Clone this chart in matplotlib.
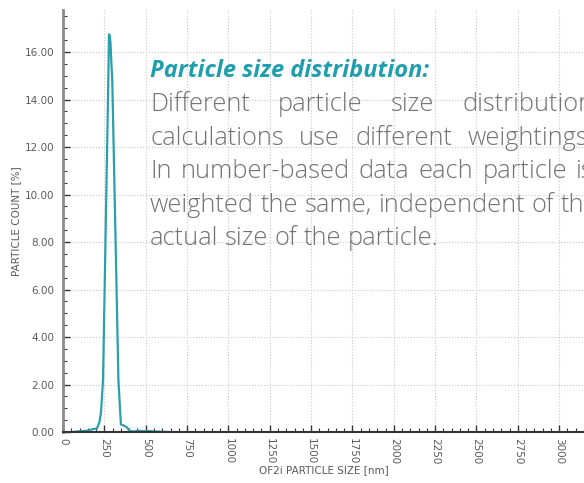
import matplotlib
matplotlib.use('Agg')
import matplotlib.pyplot as plt
from matplotlib.ticker import MultipleLocator, FormatStrFormatter

# particle size (nm) and particle count (%)
size_nm = [60, 100, 150, 180, 205, 220, 230, 242, 260, 274, 278, 282, 287, 292,
           298, 318, 335, 350, 365, 385, 405, 430, 460, 490, 520, 560, 600, 640]
count_pct = [0.0, 0.03, 0.06, 0.12, 0.15, 0.4, 0.85, 2.2, 9.3, 14.8, 16.75, 16.7,
             16.4, 15.6, 14.8, 8.0, 2.2, 0.32, 0.28, 0.2, 0.04, 0.02, 0.05, 0.03,
             0.04, 0.02, 0.01, 0.0]

title = 'Particle size distribution:'
body_lines = [
    ('Different particle size distribution', True),
    ('calculations use different weightings.', True),
    ('In number-based data each particle is', True),
    ('weighted the same, independent of the', False),
    ('actual size of the particle.', False),
]

W, H = 584, 483
TEAL = '#1f9ead'
LINE = '#2aa0ad'
GREY = '#5a5a5a'
AX_FONT = ['DejaVu Sans']
TXT_FONT = ['Open Sans', 'DejaVu Sans']
BODY_SIZE = 18.3

fig = plt.figure(figsize=(W / 100, H / 100), dpi=100)
ax = fig.add_axes([63 / W, 1 - 432 / H, 1 - 63 / W, (432 - 10) / H])

ax.plot(size_nm, count_pct, color=LINE, linewidth=1.6, solid_joinstyle='round')

ax.set_xlim(0, 3150)
ax.set_ylim(0, 17.77)
ax.xaxis.set_major_locator(MultipleLocator(250))
ax.xaxis.set_minor_locator(MultipleLocator(50))
ax.yaxis.set_major_locator(MultipleLocator(2))
ax.yaxis.set_minor_locator(MultipleLocator(0.5))
ax.yaxis.set_major_formatter(FormatStrFormatter('%.2f'))
ax.grid(True, which='major', linestyle=':', color='#c8c8c8', linewidth=0.8)
ax.set_axisbelow(True)

for s in ['top', 'right']:
    ax.spines[s].set_visible(False)
ax.spines['left'].set_color('#8a8a8a')
ax.spines['left'].set_linewidth(2)
ax.spines['bottom'].set_color('#333333')
ax.spines['bottom'].set_linewidth(1.5)

ax.tick_params(axis='both', which='major', direction='in', length=5, width=1,
               color='#333333', labelsize=7.5, labelcolor=GREY)
ax.tick_params(axis='both', which='minor', direction='in', length=3, width=0.8,
               color='#333333')
ax.tick_params(axis='x', which='major', pad=4)
ax.tick_params(axis='y', which='major', pad=6)
for lbl in ax.get_xticklabels():
    lbl.set_rotation(-90)
    lbl.set_family(AX_FONT)
for lbl in ax.get_yticklabels():
    lbl.set_family(AX_FONT)

ax.set_xlabel('OF2i PARTICLE SIZE [nm]', fontsize=7.5, color=GREY, family=AX_FONT,
              labelpad=1)
ax.set_ylabel('PARTICLE COUNT [%]', fontsize=7.5, color=GREY, family=AX_FONT,
              labelpad=3)

# annotation text, justified to a right edge past the figure border
left_px, right_px = 150, 594
fig.text(left_px / W, 1 - 77 / H, title, fontsize=17, fontweight='bold',
         fontstyle='italic', color=TEAL, family=TXT_FONT)

fig.canvas.draw()
r = fig.canvas.get_renderer()
base = 111
for i, (line, justify) in enumerate(body_lines):
    y = 1 - (base + i * 33.6) / H
    words = line.split()
    texts = [fig.text(0, y, w, fontsize=BODY_SIZE, color='#727272', family=TXT_FONT,
                      fontweight='light') for w in words]
    widths = [t.get_window_extent(r).width for t in texts]
    if justify:
        gap = (right_px - left_px - sum(widths)) / (len(words) - 1)
    else:
        sp = fig.text(0, 0, 'a a', fontsize=BODY_SIZE, family=TXT_FONT, fontweight='light')
        sp2 = fig.text(0, 0, 'aa', fontsize=BODY_SIZE, family=TXT_FONT, fontweight='light')
        gap = sp.get_window_extent(r).width - sp2.get_window_extent(r).width
        sp.remove(); sp2.remove()
    x = left_px
    for t, w in zip(texts, widths):
        t.set_x(x / W)
        x += w + gap

fig.savefig('out.png', dpi=100)
